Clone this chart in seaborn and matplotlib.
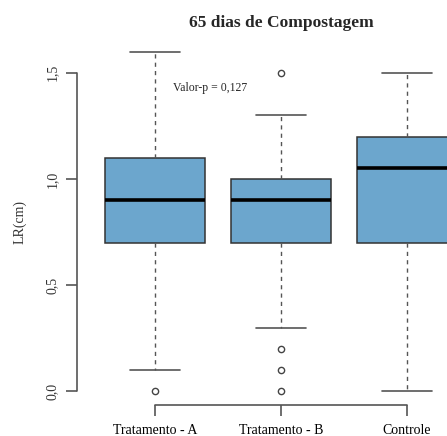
import numpy as np
import pandas as pd
import matplotlib
matplotlib.use("Agg")
import matplotlib.pyplot as plt
import seaborn as sns

# Root length (cm) after 65 days of composting, per treatment
categories = ["Tratamento - A", "Tratamento - B", "Controle"]
trat_a = [0.0, 0.1, 0.7, 0.8, 0.9, 1.0, 1.1, 1.3, 1.6]
trat_b = [0.0, 0.1, 0.2, 0.3, 0.7, 0.8, 0.8, 0.9, 0.9, 0.9, 0.9, 1.0, 1.0,
          1.2, 1.3, 1.3, 1.5]
controle = [0.0, 0.5, 0.7, 0.9, 1.05, 1.1, 1.2, 1.4, 1.5]
yticks = [0.0, 0.5, 1.0, 1.5]
ytick_labels = ["0,0", "0,5", "1,0", "1,5"]
p_text = "Valor-p = 0,127"
title = "65 dias de Compostagem"
ylabel = "LR(cm)"

df = pd.DataFrame({
    "grupo": [categories[0]] * len(trat_a) + [categories[1]] * len(trat_b)
             + [categories[2]] * len(controle),
    "lr": trat_a + trat_b + controle,
})

sns.set_theme(style="white")
plt.rcParams["font.family"] = ["Liberation Serif", "DejaVu Serif"]

W, H = 447, 436
fig = plt.figure(figsize=(W / 100, H / 100), dpi=100)
# plot region in pixels: x 77..485 (runs past the right edge), y 38..405
left, right, top, bottom = 77, 485, 38, 405
ax = fig.add_axes([left / W, 1 - bottom / H, (right - left) / W, (bottom - top) / H])

edge = "#333333"
sns.boxplot(
    data=df, x="grupo", y="lr", order=categories, ax=ax,
    color="#6CA6CD", saturation=1, width=0.8, whis=1.5,
    boxprops=dict(facecolor="#6CA6CD", edgecolor=edge, linewidth=1.1),
    medianprops=dict(color="black", linewidth=2.6),
    whiskerprops=dict(color="#555555", linestyle=(0, (3, 3)), linewidth=1.0),
    capprops=dict(color="#555555", linewidth=1.2),
    flierprops=dict(marker="o", markersize=4.5, markerfacecolor="white",
                    markeredgecolor="#444444", markeredgewidth=1.0),
)

ax.set_xlim(-0.62, 2.62)
ax.set_ylim(-0.064, 1.664)

# R-style axes: detached lines spanning only the tick range
for s in ["top", "right", "left", "bottom"]:
    ax.spines[s].set_visible(False)
ax.plot([-0.62, -0.62], [0, 1.5], color="#555555", lw=1.2, clip_on=False)
ax.plot([0, 2], [-0.064, -0.064], color="#555555", lw=1.2, clip_on=False)

ax.set_yticks(yticks)
ax.set_yticklabels(ytick_labels, rotation=90, va="center", fontsize=10, color="#333333")
ax.set_xticks(range(len(categories)))
ax.set_xticklabels(categories, fontsize=10, color="black")
ax.tick_params(axis="both", which="both", length=8, width=1.2, color="#555555",
               left=True, bottom=True, direction="out")
ax.tick_params(axis="y", pad=5)
ax.tick_params(axis="x", pad=6)

ax.set_xlabel("")
ax.set_ylabel(ylabel, fontsize=10, color="#333333", labelpad=14)
ax.set_title(title, fontsize=12.5, fontweight="bold", pad=8)

ax.text(0.14, 1.43, p_text, fontsize=8.5, ha="left", va="center")

fig.savefig("out.png", dpi=100)
